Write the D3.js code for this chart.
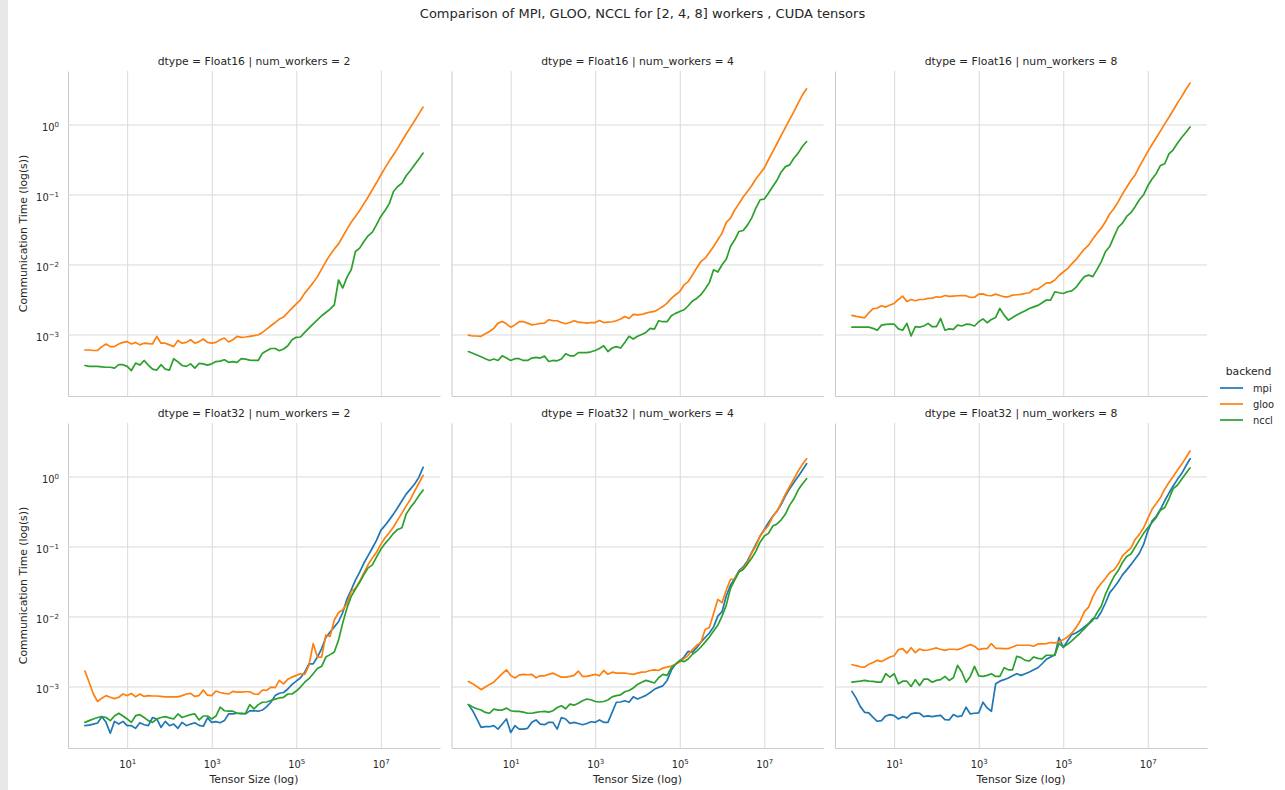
<!DOCTYPE html>
<html><head><meta charset="utf-8">
<script src="https://cdn.jsdelivr.net/npm/d3@7"></script>
<style>
body{margin:0;background:#fff;}
svg{display:block;font-family:"DejaVu Sans",sans-serif;}
</style>
</head><body>
<svg id="chart" width="1285" height="790"></svg>
<script>
// ---------------- data ----------------
const tensorSizes = [1,1.259,1.585,1.995,2.512,3.162,3.981,5.012,6.31,7.943,
10,12.59,15.85,19.95,25.12,31.62,39.81,50.12,63.1,79.43,
100,125.9,158.5,199.5,251.2,316.2,398.1,501.2,631,794.3,
1e3,1259,1585,1995,2512,3162,3981,5012,6310,7943,
1e4,12589,15849,19953,25119,31623,39811,50119,63096,79433,
1e5,125893,158489,199526,251189,316228,398107,501187,630957,794328,
1e6,1.259e6,1.585e6,1.995e6,2.512e6,3.162e6,3.981e6,5.012e6,6.31e6,7.943e6,
1e7,1.259e7,1.585e7,1.995e7,2.512e7,3.162e7,3.981e7,5.012e7,6.31e7,7.943e7,
1e8];

const backends = ["mpi","gloo","nccl"];
const dtypes = ["Float16","Float32"];
const workerCounts = [2,4,8];
const xTickValues = [1e1,1e3,1e5,1e7];
const yTickValues = [1e-3,1e-2,1e-1,1];

const f16_w2_gloo = [6.0e-4,6.0e-4,5.9e-4,5.9e-4,6.7e-4,7.3e-4,6.7e-4,6.7e-4,7.3e-4,7.7e-4,
7.9e-4,7.3e-4,7.7e-4,7.1e-4,7.5e-4,7.4e-4,7.3e-4,9.4e-4,7.5e-4,7.5e-4,
7.1e-4,6.7e-4,8.2e-4,7.5e-4,7.7e-4,8.4e-4,7.5e-4,7.9e-4,8.6e-4,7.7e-4,
7.5e-4,7.7e-4,8.4e-4,8.9e-4,7.8e-4,8.4e-4,9.4e-4,9.1e-4,9.2e-4,9.4e-4,
9.6e-4,9.9e-4,1.07e-3,1.19e-3,1.33e-3,1.48e-3,1.66e-3,1.77e-3,2.06e-3,2.38e-3,
2.74e-3,3.13e-3,3.9e-3,4.6e-3,5.5e-3,6.7e-3,8.6e-3,1.1e-2,1.37e-2,1.66e-2,
1.97e-2,2.51e-2,3.2e-2,4.0e-2,4.85e-2,5.9e-2,7.4e-2,9.2e-2,0.117,0.148,
0.19,0.24,0.30,0.37,0.46,0.58,0.73,0.91,1.13,1.42,1.77];

const f16_w2_nccl = [3.6e-4,3.5e-4,3.5e-4,3.5e-4,3.45e-4,3.4e-4,3.4e-4,3.3e-4,3.7e-4,3.7e-4,
3.5e-4,3.05e-4,3.9e-4,3.65e-4,4.25e-4,3.65e-4,3.2e-4,3.1e-4,3.7e-4,3.2e-4,
3.1e-4,4.5e-4,4.06e-4,3.6e-4,3.5e-4,3.8e-4,3.3e-4,3.85e-4,3.8e-4,3.65e-4,
3.8e-4,4.1e-4,4.16e-4,4.35e-4,4.0e-4,4.1e-4,4.0e-4,4.5e-4,4.45e-4,4.3e-4,
4.25e-4,4.25e-4,5.4e-4,5.85e-4,6.3e-4,6.3e-4,5.85e-4,6.2e-4,6.9e-4,8.4e-4,
9.1e-4,9.2e-4,1.07e-3,1.23e-3,1.42e-3,1.62e-3,1.85e-3,2.06e-3,2.3e-3,2.65e-3,
6.0e-3,4.6e-3,6.6e-3,8.4e-3,1.53e-2,1.71e-2,2.13e-2,2.57e-2,2.9e-2,3.7e-2,
4.85e-2,5.9e-2,7.4e-2,0.11,0.13,0.145,0.185,0.22,0.265,0.32,0.39];

const f16_w4_gloo = [9.8e-4,9.5e-4,9.5e-4,9.4e-4,1.02e-3,1.1e-3,1.22e-3,1.45e-3,1.53e-3,1.42e-3,
1.27e-3,1.37e-3,1.52e-3,1.52e-3,1.45e-3,1.37e-3,1.4e-3,1.44e-3,1.45e-3,1.62e-3,
1.58e-3,1.57e-3,1.48e-3,1.42e-3,1.48e-3,1.57e-3,1.5e-3,1.48e-3,1.45e-3,1.48e-3,
1.48e-3,1.58e-3,1.48e-3,1.5e-3,1.52e-3,1.57e-3,1.66e-3,1.81e-3,1.69e-3,1.93e-3,
1.91e-3,1.93e-3,2.02e-3,2.09e-3,2.13e-3,2.3e-3,2.5e-3,2.8e-3,3.27e-3,3.69e-3,
4.1e-3,5.1e-3,5.7e-3,7.1e-3,8.9e-3,1.1e-2,1.23e-2,1.48e-2,1.81e-2,2.25e-2,
2.8e-2,4.0e-2,4.6e-2,6.0e-2,7.4e-2,9.2e-2,0.11,0.133,0.166,0.20,
0.24,0.316,0.41,0.535,0.70,0.91,1.18,1.53,2.02,2.63,3.23];

const f16_w4_nccl = [5.7e-4,5.4e-4,5.1e-4,4.8e-4,4.5e-4,4.25e-4,4.45e-4,4.25e-4,4.95e-4,4.6e-4,
4.25e-4,4.5e-4,4.5e-4,4.25e-4,4.25e-4,4.6e-4,4.7e-4,4.6e-4,4.9e-4,4.1e-4,
4.25e-4,4.2e-4,4.45e-4,5.3e-4,4.95e-4,4.95e-4,5.5e-4,5.5e-4,5.5e-4,5.65e-4,
5.9e-4,6.3e-4,6.9e-4,5.7e-4,6.4e-4,6.7e-4,6.4e-4,7.7e-4,9.4e-4,8.6e-4,
9.4e-4,1.0e-3,1.07e-3,1.22e-3,1.19e-3,1.57e-3,1.52e-3,1.52e-3,1.85e-3,2.0e-3,
2.13e-3,2.25e-3,2.57e-3,3.0e-3,3.27e-3,3.7e-3,4.45e-3,5.5e-3,8.4e-3,7.8e-3,
9.9e-3,1.19e-2,1.81e-2,2.25e-2,2.96e-2,3.06e-2,3.65e-2,4.6e-2,6.4e-2,8.4e-2,
8.6e-2,0.105,0.13,0.16,0.21,0.25,0.265,0.33,0.39,0.485,0.57];

const f16_w8_gloo = [1.87e-3,1.81e-3,1.77e-3,1.73e-3,2.04e-3,2.33e-3,2.38e-3,2.57e-3,2.46e-3,2.63e-3,
2.77e-3,3.16e-3,3.53e-3,2.96e-3,3.16e-3,3.03e-3,3.16e-3,3.16e-3,3.27e-3,3.3e-3,
3.45e-3,3.4e-3,3.6e-3,3.5e-3,3.53e-3,3.57e-3,3.6e-3,3.57e-3,3.38e-3,3.4e-3,
3.77e-3,3.8e-3,3.6e-3,3.57e-3,3.77e-3,3.6e-3,3.45e-3,3.45e-3,3.65e-3,3.69e-3,
3.73e-3,3.85e-3,3.94e-3,4.4e-3,4.45e-3,4.9e-3,5.47e-3,5.47e-3,6.0e-3,6.96e-3,
7.8e-3,8.7e-3,1.02e-2,1.17e-2,1.4e-2,1.66e-2,1.89e-2,2.33e-2,2.8e-2,3.3e-2,
4.1e-2,5.3e-2,6.3e-2,7.9e-2,0.101,0.127,0.158,0.19,0.25,0.32,
0.41,0.518,0.645,0.81,1.02,1.27,1.6,2.02,2.5,3.16,3.9];

const f16_w8_nccl = [1.27e-3,1.27e-3,1.27e-3,1.27e-3,1.27e-3,1.22e-3,1.15e-3,1.36e-3,1.39e-3,1.4e-3,
1.4e-3,1.2e-3,1.15e-3,1.44e-3,9.5e-4,1.29e-3,1.27e-3,1.32e-3,1.44e-3,1.29e-3,
1.29e-3,1.69e-3,1.15e-3,1.2e-3,1.18e-3,1.36e-3,1.32e-3,1.4e-3,1.39e-3,1.32e-3,
1.52e-3,1.67e-3,1.47e-3,1.64e-3,1.75e-3,2.35e-3,1.89e-3,1.6e-3,1.75e-3,1.89e-3,
2.04e-3,2.18e-3,2.35e-3,2.48e-3,2.6e-3,2.83e-3,3.1e-3,3.1e-3,4.07e-3,3.94e-3,
3.85e-3,4.07e-3,4.2e-3,4.7e-3,5.65e-3,6.7e-3,7.05e-3,6.7e-3,8.5e-3,1.1e-2,
1.53e-2,1.81e-2,2.5e-2,3.4e-2,3.9e-2,4.85e-2,5.5e-2,6.7e-2,8.4e-2,9.9e-2,
0.133,0.166,0.20,0.26,0.275,0.38,0.435,0.54,0.65,0.77,0.92];

const f32_w2_mpi = [2.75e-4,2.8e-4,2.9e-4,3.0e-4,3.7e-4,3.07e-4,2.14e-4,3.17e-4,2.9e-4,3.17e-4,
2.75e-4,2.75e-4,2.52e-4,3.03e-4,2.84e-4,2.75e-4,3.6e-4,3.43e-4,2.6e-4,3.17e-4,
2.75e-4,2.9e-4,2.52e-4,3.07e-4,2.75e-4,2.9e-4,3.03e-4,2.78e-4,2.7e-4,3.55e-4,
3.07e-4,3.14e-4,3.03e-4,3.25e-4,4.05e-4,4.05e-4,4.14e-4,4.14e-4,4.05e-4,4.48e-4,
4.5e-4,4.43e-4,4.6e-4,5.15e-4,5.95e-4,7.4e-4,8.0e-4,8.2e-4,9.2e-4,1.07e-3,
1.19e-3,1.33e-3,1.6e-3,2.1e-3,2.1e-3,2.63e-3,3.47e-3,5.0e-3,6.0e-3,7.1e-3,
8.4e-3,1.14e-2,1.77e-2,2.4e-2,3.3e-2,4.3e-2,5.8e-2,7.4e-2,9.5e-2,0.123,
0.17,0.20,0.24,0.29,0.36,0.45,0.56,0.66,0.78,0.97,1.35];

const f32_w2_gloo = [1.66e-3,1.15e-3,7.8e-4,6.1e-4,6.8e-4,7.4e-4,7.0e-4,6.7e-4,7.0e-4,7.8e-4,
7.4e-4,7.95e-4,7.1e-4,7.8e-4,7.2e-4,7.4e-4,7.3e-4,7.3e-4,7.2e-4,7.1e-4,
7.1e-4,7.1e-4,7.1e-4,7.4e-4,7.8e-4,7.95e-4,7.2e-4,7.4e-4,8.9e-4,7.5e-4,
7.4e-4,8.6e-4,8.2e-4,7.95e-4,7.8e-4,8.5e-4,8.3e-4,8.3e-4,8.4e-4,8.4e-4,
7.8e-4,7.7e-4,8.9e-4,8.8e-4,9.8e-4,9.6e-4,1.22e-3,1.09e-3,1.27e-3,1.36e-3,
1.44e-3,1.52e-3,1.49e-3,2.0e-3,4.1e-3,2.63e-3,2.63e-3,5.4e-3,5.2e-3,8.9e-3,
1.14e-2,1.25e-2,1.52e-2,2.28e-2,2.52e-2,3.18e-2,4.2e-2,5.5e-2,6.85e-2,8.3e-2,
0.107,0.133,0.157,0.19,0.24,0.30,0.38,0.47,0.62,0.80,1.04];

const f32_w2_nccl = [3.07e-4,3.25e-4,3.43e-4,3.6e-4,3.7e-4,3.6e-4,3.25e-4,3.78e-4,4.14e-4,3.78e-4,
3.43e-4,3.07e-4,3.82e-4,3.95e-4,3.6e-4,3.25e-4,3.07e-4,3.43e-4,3.6e-4,3.7e-4,
3.55e-4,3.43e-4,4.05e-4,3.6e-4,3.78e-4,3.95e-4,4.05e-4,3.32e-4,3.78e-4,3.78e-4,
3.43e-4,3.78e-4,5.05e-4,4.5e-4,4.43e-4,4.43e-4,4.14e-4,4.05e-4,4.14e-4,5.5e-4,
4.78e-4,5.5e-4,5.95e-4,6.0e-4,6.3e-4,6.6e-4,6.85e-4,7.0e-4,7.8e-4,7.8e-4,
8.6e-4,9.8e-4,1.15e-3,1.29e-3,1.52e-3,1.8e-3,1.94e-3,2.63e-3,2.85e-3,3.1e-3,
4.6e-3,8.1e-3,1.32e-2,1.94e-2,2.47e-2,3.07e-2,3.96e-2,4.95e-2,5.45e-2,7.1e-2,
9.1e-2,0.11,0.129,0.154,0.175,0.185,0.29,0.36,0.43,0.53,0.64];

const f32_w4_mpi = [5.5e-4,4.5e-4,3.43e-4,2.6e-4,2.66e-4,2.66e-4,2.75e-4,2.46e-4,2.9e-4,3.43e-4,
2.2e-4,2.75e-4,2.46e-4,2.46e-4,2.52e-4,3.07e-4,3.32e-4,2.9e-4,2.84e-4,3.07e-4,
3.07e-4,2.46e-4,3.6e-4,3.43e-4,2.96e-4,3.07e-4,2.96e-4,2.84e-4,2.96e-4,3.13e-4,
3.07e-4,3.32e-4,3.07e-4,3.07e-4,4.25e-4,5.95e-4,6.0e-4,6.25e-4,5.95e-4,7.1e-4,
6.6e-4,7.0e-4,7.45e-4,8.2e-4,9.1e-4,9.7e-4,1.02e-3,1.22e-3,1.7e-3,2.1e-3,
2.3e-3,2.63e-3,3.17e-3,3.1e-3,3.58e-3,4.3e-3,5.0e-3,5.8e-3,7.1e-3,1.01e-2,
1.17e-2,1.96e-2,2.8e-2,3.5e-2,4.5e-2,5.1e-2,6.2e-2,8.2e-2,0.107,0.141,
0.175,0.22,0.27,0.32,0.40,0.53,0.67,0.82,1.0,1.23,1.52];

const f32_w4_gloo = [1.18e-3,1.09e-3,1.0e-3,9.0e-4,9.8e-4,1.07e-3,1.15e-3,1.33e-3,1.52e-3,1.73e-3,
1.44e-3,1.32e-3,1.45e-3,1.49e-3,1.47e-3,1.49e-3,1.33e-3,1.42e-3,1.42e-3,1.49e-3,
1.55e-3,1.45e-3,1.36e-3,1.36e-3,1.39e-3,1.44e-3,1.66e-3,1.39e-3,1.39e-3,1.44e-3,
1.49e-3,1.42e-3,1.69e-3,1.49e-3,1.6e-3,1.55e-3,1.55e-3,1.55e-3,1.52e-3,1.49e-3,
1.55e-3,1.6e-3,1.62e-3,1.69e-3,1.73e-3,1.69e-3,1.83e-3,1.89e-3,1.96e-3,2.07e-3,
2.23e-3,2.5e-3,2.78e-3,3.36e-3,3.88e-3,4.23e-3,6.5e-3,6.95e-3,1.1e-2,1.75e-2,
1.57e-2,2.39e-2,3.4e-2,3.4e-2,4.37e-2,4.9e-2,5.9e-2,8.0e-2,0.101,0.141,
0.17,0.20,0.27,0.32,0.42,0.56,0.72,0.92,1.19,1.49,1.79];

const f32_w4_nccl = [5.5e-4,5.1e-4,4.8e-4,4.6e-4,4.25e-4,4.14e-4,4.75e-4,4.6e-4,4.6e-4,4.9e-4,
4.5e-4,4.4e-4,4.4e-4,4.3e-4,4.14e-4,4.14e-4,4.25e-4,4.35e-4,4.4e-4,4.3e-4,
4.5e-4,5.0e-4,5.3e-4,4.8e-4,5.6e-4,5.4e-4,5.75e-4,6.25e-4,6.6e-4,6.45e-4,
6.1e-4,6.0e-4,6.1e-4,6.4e-4,7.1e-4,7.4e-4,7.6e-4,8.4e-4,8.75e-4,9.5e-4,
1.07e-3,1.15e-3,1.22e-3,1.17e-3,1.12e-3,1.33e-3,1.49e-3,1.44e-3,1.85e-3,2.07e-3,
2.36e-3,2.26e-3,2.47e-3,2.88e-3,3.2e-3,3.66e-3,4.3e-3,5.1e-3,6.2e-3,7.5e-3,
1.01e-2,1.45e-2,2.52e-2,3.3e-2,4.3e-2,4.7e-2,5.6e-2,6.8e-2,8.5e-2,0.115,
0.141,0.154,0.196,0.21,0.24,0.29,0.39,0.48,0.64,0.78,0.93];

const f32_w8_mpi = [8.5e-4,6.8e-4,5.15e-4,4.27e-4,4.2e-4,3.62e-4,3.18e-4,3.25e-4,3.79e-4,3.96e-4,
3.83e-4,3.43e-4,3.7e-4,3.55e-4,4.05e-4,4.2e-4,4.14e-4,3.7e-4,3.79e-4,3.7e-4,
3.79e-4,3.87e-4,3.36e-4,3.32e-4,3.96e-4,3.7e-4,3.79e-4,5.05e-4,4.05e-4,4.14e-4,
4.2e-4,5.95e-4,4.94e-4,4.42e-4,1.09e-3,1.19e-3,1.25e-3,1.32e-3,1.42e-3,1.52e-3,
1.44e-3,1.52e-3,1.61e-3,1.73e-3,1.85e-3,2.11e-3,2.44e-3,2.64e-3,2.82e-3,5.0e-3,
3.6e-3,4.47e-3,5.5e-3,5.8e-3,6.36e-3,7.1e-3,7.95e-3,9.35e-3,9.35e-3,1.17e-2,
1.57e-2,2.19e-2,2.6e-2,3.14e-2,3.93e-2,4.63e-2,5.5e-2,6.6e-2,8.0e-2,0.107,
0.166,0.23,0.27,0.34,0.45,0.58,0.73,0.91,1.10,1.41,1.79];

const f32_w8_gloo = [2.04e-3,1.98e-3,1.91e-3,1.89e-3,2.07e-3,2.2e-3,2.36e-3,2.28e-3,2.44e-3,2.63e-3,
2.75e-3,3.36e-3,3.47e-3,3.0e-3,3.58e-3,3.04e-3,3.43e-3,3.28e-3,3.32e-3,3.43e-3,
3.55e-3,3.4e-3,3.28e-3,3.4e-3,3.4e-3,3.36e-3,3.51e-3,3.75e-3,3.96e-3,3.75e-3,
3.36e-3,3.47e-3,3.47e-3,4.1e-3,3.51e-3,3.51e-3,3.47e-3,3.47e-3,3.67e-3,3.88e-3,
3.88e-3,3.88e-3,3.88e-3,3.75e-3,4.05e-3,4.05e-3,4.1e-3,4.24e-3,4.19e-3,4.33e-3,
4.67e-3,5.1e-3,5.77e-3,6.87e-3,8.6e-3,1.17e-2,1.36e-2,1.92e-2,2.5e-2,2.98e-2,
3.51e-2,4.24e-2,4.63e-2,5.6e-2,7.35e-2,8.4e-2,9.45e-2,0.126,0.149,0.185,
0.25,0.34,0.41,0.50,0.66,0.82,1.0,1.23,1.49,1.85,2.31];

const f32_w8_nccl = [1.15e-3,1.17e-3,1.19e-3,1.22e-3,1.19e-3,1.18e-3,1.15e-3,1.15e-3,1.52e-3,1.36e-3,
1.52e-3,1.09e-3,1.19e-3,1.19e-3,1.0e-3,1.25e-3,1.03e-3,1.27e-3,1.27e-3,1.15e-3,
1.22e-3,1.25e-3,1.39e-3,1.22e-3,1.33e-3,2.0e-3,1.61e-3,1.15e-3,1.39e-3,1.94e-3,
1.42e-3,1.39e-3,1.44e-3,1.52e-3,1.39e-3,1.39e-3,1.85e-3,1.73e-3,1.73e-3,2.7e-3,
2.58e-3,2.36e-3,2.31e-3,2.64e-3,2.52e-3,2.47e-3,2.79e-3,2.79e-3,2.79e-3,4.1e-3,
3.67e-3,4.0e-3,4.47e-3,5.1e-3,5.8e-3,6.7e-3,7.75e-3,8.85e-3,1.13e-2,1.41e-2,
2.09e-2,2.82e-2,3.71e-2,4.52e-2,5.9e-2,7.2e-2,7.8e-2,9.8e-2,0.123,0.154,
0.185,0.22,0.26,0.33,0.36,0.48,0.67,0.75,0.91,1.10,1.33];

// ---------------- layout ----------------
const W = 1285, H = 790;
const colLeft = [68, 451.5, 835], panelW = 372;
const rowTop = [71, 423], panelH = 325;
const xDomain = [0.398, 2.512e8];
const yDomain = [1.32e-4, 5.81];
const colors = {mpi:"#1f77b4", gloo:"#ff7f0e", nccl:"#2ca02c"};
const textColor = "#262626";

const panels = [
  {dtype:dtypes[0], workers:workerCounts[0], series:{gloo:f16_w2_gloo, nccl:f16_w2_nccl}},
  {dtype:dtypes[0], workers:workerCounts[1], series:{gloo:f16_w4_gloo, nccl:f16_w4_nccl}},
  {dtype:dtypes[0], workers:workerCounts[2], series:{gloo:f16_w8_gloo, nccl:f16_w8_nccl}},
  {dtype:dtypes[1], workers:workerCounts[0], series:{mpi:f32_w2_mpi, gloo:f32_w2_gloo, nccl:f32_w2_nccl}},
  {dtype:dtypes[1], workers:workerCounts[1], series:{mpi:f32_w4_mpi, gloo:f32_w4_gloo, nccl:f32_w4_nccl}},
  {dtype:dtypes[1], workers:workerCounts[2], series:{mpi:f32_w8_mpi, gloo:f32_w8_gloo, nccl:f32_w8_nccl}}
];

const svg = d3.select("#chart");
svg.append("rect").attr("x",0).attr("y",0).attr("width",W).attr("height",H).attr("fill","#ffffff");
svg.append("rect").attr("x",0).attr("y",0).attr("width",8).attr("height",H).attr("fill","#e8e8e8");

// title
svg.append("text").attr("x",642.5).attr("y",18).attr("text-anchor","middle")
  .attr("font-size",13).attr("fill",textColor)
  .text("Comparison of MPI, GLOO, NCCL for [2, 4, 8] workers , CUDA tensors");

function expLabel(sel, d){
  const e = Math.round(Math.log10(d));
  sel.text(null);
  sel.append("tspan").text("10");
  sel.append("tspan").attr("dy",-4.5).attr("font-size",7).text(String(e).replace("-","\u2212"));
}

panels.forEach((p,k)=>{
  const r = Math.floor(k/3), c = k%3;
  const x0 = colLeft[c], y0 = rowTop[r];
  const x = d3.scaleLog().domain(xDomain).range([x0, x0+panelW]);
  const y = d3.scaleLog().domain(yDomain).range([y0+panelH, y0]);
  const g = svg.append("g");

  // x axis + vertical grid
  const gx = g.append("g").attr("transform",`translate(0,${y0+panelH})`)
    .call(d3.axisBottom(x).tickValues(xTickValues).tickSizeInner(-panelH).tickSizeOuter(0).tickPadding(0));
  // y axis + horizontal grid
  const gy = g.append("g").attr("transform",`translate(${x0},0)`)
    .call(d3.axisLeft(y).tickValues(yTickValues).tickSizeInner(-panelW).tickSizeOuter(0).tickPadding(0));

  [gx,gy].forEach(a=>{
    a.attr("font-family",null).attr("font-size",null);
    a.selectAll(".tick line").attr("stroke","#d9d9d9").attr("stroke-width",1);
    a.select(".domain").attr("stroke","#cccccc").attr("stroke-width",1.1);
  });

  gx.selectAll(".tick text").each(function(d){
    const t = d3.select(this);
    if (r===1){
      t.attr("y",20).attr("dy",null).attr("font-size",9.9).attr("fill",textColor);
      expLabel(t,d);
    } else t.remove();
  });
  gy.selectAll(".tick text").each(function(d){
    const t = d3.select(this);
    if (c===0){
      t.attr("x",-9).attr("dy",null).attr("y",6.3).attr("font-size",9.9).attr("fill",textColor).attr("text-anchor","end");
      expLabel(t,d);
    } else t.remove();
  });

  // lines
  const line = d3.line().x((d,i)=>x(tensorSizes[i])).y(d=>y(d));
  backends.forEach(b=>{
    if (!p.series[b]) return;
    g.append("path").datum(p.series[b])
      .attr("fill","none").attr("stroke",colors[b]).attr("stroke-width",1.7)
      .attr("stroke-linejoin","round").attr("stroke-linecap","round")
      .attr("d",line);
  });

  // panel title
  g.append("text").attr("x",x0+panelW/2).attr("y",y0-6.5).attr("text-anchor","middle")
    .attr("font-size",10.8).attr("fill",textColor)
    .text(`dtype = ${p.dtype} | num_workers = ${p.workers}`);

  if (c===0){
    g.append("text").attr("transform",`translate(26.5,${y0+panelH/2}) rotate(-90)`)
      .attr("text-anchor","middle").attr("font-size",10.8).attr("fill",textColor)
      .text("Communication Time (log(s))");
  }
  if (r===1){
    g.append("text").attr("x",x0+panelW/2).attr("y",783).attr("text-anchor","middle")
      .attr("font-size",10.8).attr("fill",textColor).text("Tensor Size (log)");
  }
});

// legend
const lg = svg.append("g");
lg.append("text").attr("x",1248.5).attr("y",375).attr("text-anchor","middle")
  .attr("font-size",10.8).attr("fill",textColor).text("backend");
backends.forEach((b,i)=>{
  const ly = 388 + i*16;
  lg.append("line").attr("x1",1220).attr("x2",1243).attr("y1",ly).attr("y2",ly)
    .attr("stroke",colors[b]).attr("stroke-width",1.7);
  lg.append("text").attr("x",1253).attr("y",ly+3.5).attr("font-size",9.9)
    .attr("fill",textColor).text(b);
});
</script>
</body></html>
